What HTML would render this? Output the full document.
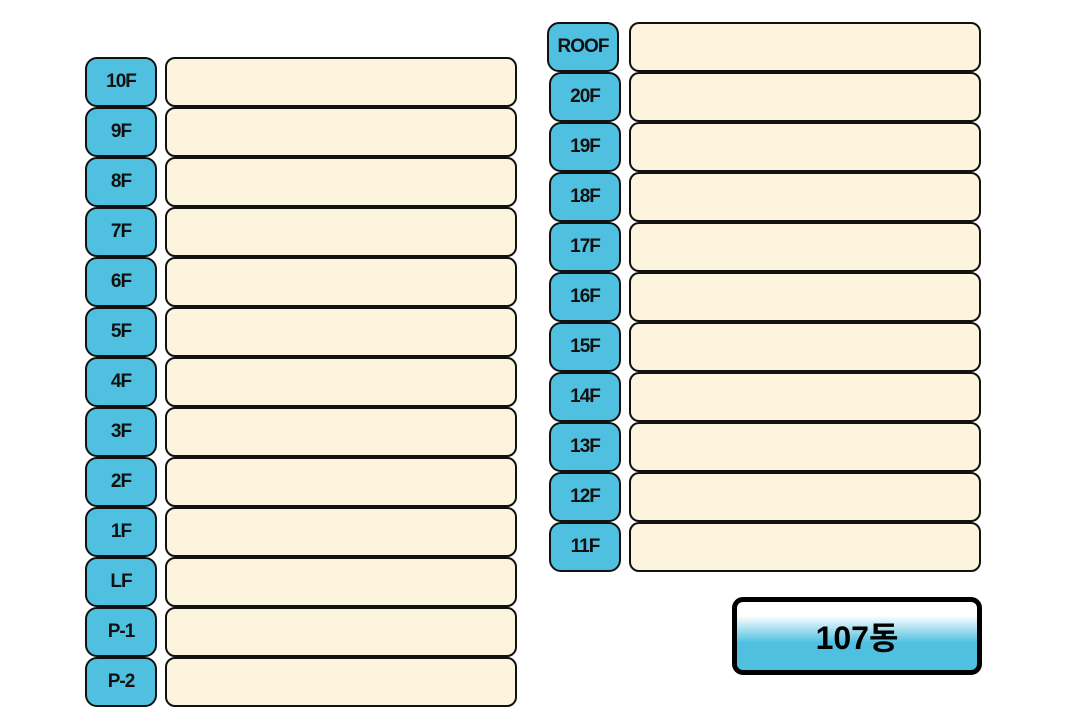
<!DOCTYPE html>
<html><head><meta charset="utf-8"><style>
body{margin:0;width:1068px;height:722px;background:#fff;position:relative;overflow:hidden;font-family:"Liberation Sans","Noto Sans CJK KR",sans-serif}
.l{position:absolute;width:68px;height:46px;border:2px solid #111;border-radius:12px;background:#4fc0e0;display:flex;align-items:center;justify-content:center;font-size:19px;font-weight:bold;color:#111;letter-spacing:-1px}
.c{position:absolute;height:46px;border:2px solid #111;border-radius:10px;background:#fcf4dc}
.t{position:absolute;left:732px;top:597px;width:240px;height:68px;border:5px solid #000;border-radius:11px;background:linear-gradient(#fff 0%,#fff 20%,#4fc0e0 60%,#4fc0e0 100%);display:flex;align-items:center;justify-content:center;font-size:32px;font-weight:bold;color:#000}
</style></head><body>
<div id="a"></div>
<script>
var L=["10F","9F","8F","7F","6F","5F","4F","3F","2F","1F","LF","P-1","P-2"],h="";
L.forEach(function(s,i){var y=57+i*50;h+='<div class="l" style="left:85px;top:'+y+'px">'+s+'</div><div class="c" style="left:165px;top:'+y+'px;width:348px"></div>';});
var R=["ROOF","20F","19F","18F","17F","16F","15F","14F","13F","12F","11F"];
R.forEach(function(s,i){var y=22+i*50;var x=i==0?547:549;h+='<div class="l" style="left:'+x+'px;top:'+y+'px">'+s+'</div><div class="c" style="left:629px;top:'+y+'px;width:348px"></div>';});
h+='<div class="t">107동</div>';
document.getElementById("a").innerHTML=h;
</script>
</body></html>
